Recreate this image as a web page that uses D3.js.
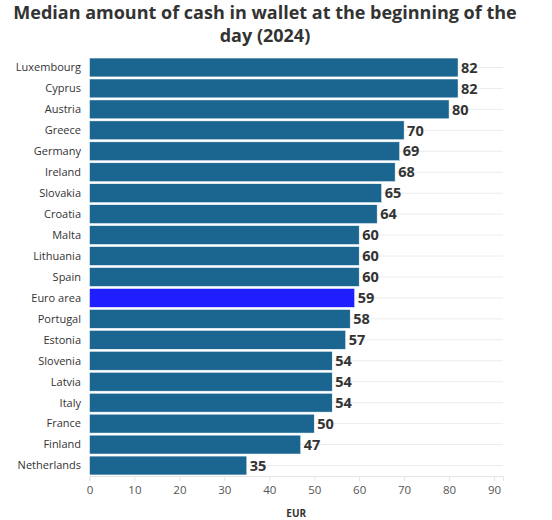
<!DOCTYPE html>
<html>
<head>
<meta charset="utf-8">
<script src="https://cdn.jsdelivr.net/npm/d3@7"></script>
<style>
  body { margin: 0; background: #fff; }
  svg { font-family: "Open Sans", sans-serif; }
</style>
</head>
<body>
<svg width="552" height="520"></svg>
<script>
// chart data
var countries = ["Luxembourg", "Cyprus", "Austria", "Greece", "Germany", "Ireland",
  "Slovakia", "Croatia", "Malta", "Lithuania", "Spain", "Euro area", "Portugal",
  "Estonia", "Slovenia", "Latvia", "Italy", "France", "Finland", "Netherlands"];
var amounts = [82, 82, 80, 70, 69, 68, 65, 64, 60, 60, 60, 59, 58, 57, 54, 54, 54, 50, 47, 35];
var xTicks = [0, 10, 20, 30, 40, 50, 60, 70, 80, 90];
var highlight = "Euro area";

var svg = d3.select("svg");

// plot box (window.top is taken, so prefixed names)
var plotLeft = 89.5, plotRight = 503, plotTop = 57, plotBottom = 476;

var x = d3.scaleLinear().domain([0, 92]).range([plotLeft, plotRight]);
var y = d3.scaleBand().domain(countries).range([plotTop, plotBottom]).paddingInner(0.1).paddingOuter(0.05);

// title
svg.append("text")
  .attr("x", 265).attr("y", 19)
  .attr("text-anchor", "middle")
  .style("font-size", "18px").style("font-weight", "bold").style("fill", "#333")
  .text("Median amount of cash in wallet at the beginning of the");
svg.append("text")
  .attr("x", 265).attr("y", 42)
  .attr("text-anchor", "middle")
  .style("font-size", "18px").style("font-weight", "bold").style("fill", "#333")
  .text("day (2024)");

// faint row lines
svg.selectAll(".row").data(countries).enter().append("line")
  .attr("x1", plotLeft).attr("x2", plotRight)
  .attr("y1", function(d) { return y(d) + y.bandwidth() / 2; })
  .attr("y2", function(d) { return y(d) + y.bandwidth() / 2; })
  .style("stroke", "#ececec").style("stroke-width", 1);

// bottom axis
var xAxis = svg.append("g")
  .attr("transform", "translate(0," + plotBottom + ")")
  .call(d3.axisBottom(x).tickValues(xTicks).tickSize(5).tickPadding(5));
xAxis.select(".domain").style("stroke", "#e4e4e4");
xAxis.selectAll(".tick line").style("stroke", "#e4e4e4");
xAxis.selectAll(".tick text")
  .style("font-family", "Open Sans").style("font-size", "11.5px").style("fill", "#555");

svg.append("text")
  .attr("x", (plotLeft + plotRight) / 2).attr("y", 517)
  .attr("text-anchor", "middle")
  .style("font-size", "10px").style("font-weight", "bold").style("fill", "#333")
  .text("EUR");

// bars
for (var i = 0; i < countries.length; i++) {
  svg.append("rect")
    .attr("x", x(0))
    .attr("y", y(countries[i]))
    .attr("width", x(amounts[i]) - x(0))
    .attr("height", y.bandwidth())
    .style("fill", countries[i] == highlight ? "#1e1eff" : "#1b6591")
    .style("stroke", "#fff")
    .style("stroke-width", 0.5);

  svg.append("text")
    .attr("x", x(0) - 8.5)
    .attr("y", y(countries[i]) + y.bandwidth() / 2)
    .attr("dy", "0.35em")
    .attr("text-anchor", "end")
    .style("font-size", "11px").style("fill", "#333")
    .text(countries[i]);

  svg.append("text")
    .attr("x", x(amounts[i]) + 3)
    .attr("y", y(countries[i]) + y.bandwidth() / 2)
    .attr("dy", "0.36em")
    .style("font-size", "14.5px").style("font-weight", "bold").style("fill", "#333")
    .text(amounts[i]);
}
</script>
</body>
</html>
